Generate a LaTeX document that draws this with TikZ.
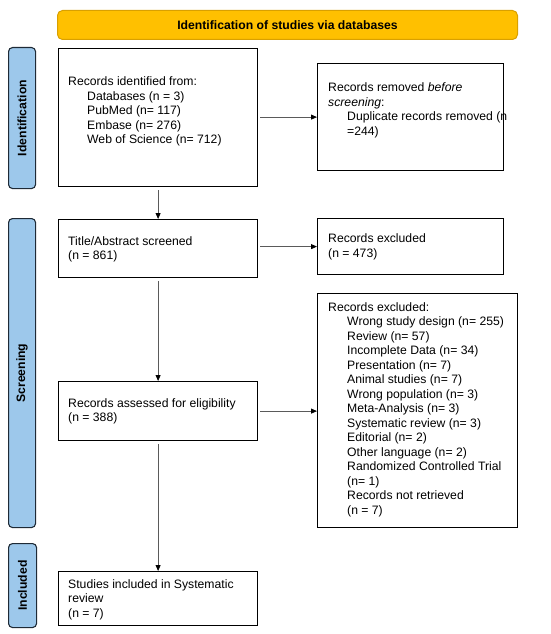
\documentclass[tikz,border=0pt]{standalone}
\usepackage{fontspec}
\setmainfont{Liberation Sans}
\usetikzlibrary{arrows.meta}
\definecolor{hdrfill}{HTML}{FFC000}
\definecolor{hdrdraw}{HTML}{D9A000}
\definecolor{barfill}{HTML}{9DC8EB}
\definecolor{bardraw}{HTML}{1E2A36}
\definecolor{arrgray}{HTML}{5A5A5A}
\begin{document}
\begin{tikzpicture}[x=1pt,y=-1pt,
  every node/.style={font=\fontsize{12.2}{14.5}\selectfont},
  box/.style={draw=black,line width=1.2pt,inner sep=0pt,anchor=north west},
  txt/.style={anchor=base west,inner sep=0pt,align=left},
  bar/.style={draw=bardraw,fill=barfill,line width=1.1pt,rounded corners=4pt,inner sep=0pt,anchor=north west},
  lbl/.style={rotate=90,font=\fontsize{12.2}{14.5}\selectfont\bfseries,inner sep=0pt},
  arr/.style={draw=arrgray,line width=0.8pt,-{Triangle[length=6pt,width=5pt,fill=black,color=black]}}
]
\useasboundingbox (0,0) rectangle (550,634);
% header
\node[draw=hdrdraw,fill=hdrfill,line width=1pt,rounded corners=5pt,minimum width=460pt,minimum height=29pt,inner sep=0pt,anchor=north west] (hdr) at (57,10) {};
\node[font=\fontsize{12.2}{14.5}\selectfont\bfseries,inner sep=0pt] (hdrt) at (hdr.center) {Identification of studies via databases};
% side bars
\node[bar,minimum width=27pt,minimum height=141pt] (bid) at (8,47) {};
\node[lbl] (bidt) at (bid.center) {Identification};
\node[bar,minimum width=27pt,minimum height=309pt] (bsc) at (8,218) {};
\node[lbl] (bsct) at (bsc.center) {Screening};
\node[bar,minimum width=28pt,minimum height=84pt] (bin) at (8,543) {};
\node[lbl] (bint) at (bin.center) {Included};
% boxes (text anchored at the baseline of its last line)
\node[box,minimum width=199pt,minimum height=138pt] (b1) at (58,48) {};
\node[txt] (b1t) at (68,143.7) {Records identified from:\\\hspace*{19pt}Databases (n = 3)\\\hspace*{19pt}PubMed (n= 117)\\\hspace*{19pt}Embase (n= 276)\\\hspace*{19pt}Web of Science (n= 712)};
\node[box,minimum width=186pt,minimum height=107pt] (r1) at (317,63) {};
\node[txt] (r1t) at (328,135.2) {Records removed \textit{before}\\\textit{screening}:\\\hspace*{19pt}Duplicate records removed (n\\\hspace*{19pt}=244)};
\node[box,minimum width=199pt,minimum height=58pt] (b2) at (58,219) {};
\node[txt] (b2t) at (68,259.5) {Title/Abstract screened\\(n = 861)};
\node[box,minimum width=186pt,minimum height=56pt] (r2) at (317,218) {};
\node[txt] (r2t) at (328,257.2) {Records excluded\\(n = 473)};
\node[box,minimum width=200pt,minimum height=234pt] (r3) at (317,293) {};
\node[txt] (r3t) at (328,514) {Records excluded:\\\hspace*{19pt}Wrong study design (n= 255)\\\hspace*{19pt}Review (n= 57)\\\hspace*{19pt}Incomplete Data (n= 34)\\\hspace*{19pt}Presentation (n= 7)\\\hspace*{19pt}Animal studies (n= 7)\\\hspace*{19pt}Wrong population (n= 3)\\\hspace*{19pt}Meta-Analysis\ (n= 3)\\\hspace*{19pt}Systematic review (n= 3)\\\hspace*{19pt}Editorial (n= 2)\\\hspace*{19pt}Other language (n= 2)\\\hspace*{19pt}Randomized Controlled Trial\\\hspace*{19pt}(n= 1)\\\hspace*{19pt}Records not retrieved\\\hspace*{19pt}(n = 7)};
\node[box,minimum width=199pt,minimum height=59pt] (b3) at (58,381) {};
\node[txt] (b3t) at (68,421.5) {Records assessed for eligibility\\(n = 388)};
\node[box,minimum width=199pt,minimum height=54pt] (b4) at (58,571) {};
\node[txt] (b4t) at (68,617) {Studies included in Systematic\\review\\(n = 7)};
% arrows
\draw[arr] ([xshift=2pt]b1.east |- r1.west) -- (r1.west);
\draw[arr] ([yshift=-3pt]b1.south) -- (b2.north);
\draw[arr] ([xshift=2pt]b2.east |- r2.west) -- (r2.west);
\draw[arr] ([yshift=-3pt]b2.south) -- (b3.north);
\draw[arr] ([xshift=2pt]b3.east) -- (b3.east -| r3.west);
\draw[arr] ([yshift=-3pt]b3.south) -- (b4.north);
\end{tikzpicture}
\end{document}
